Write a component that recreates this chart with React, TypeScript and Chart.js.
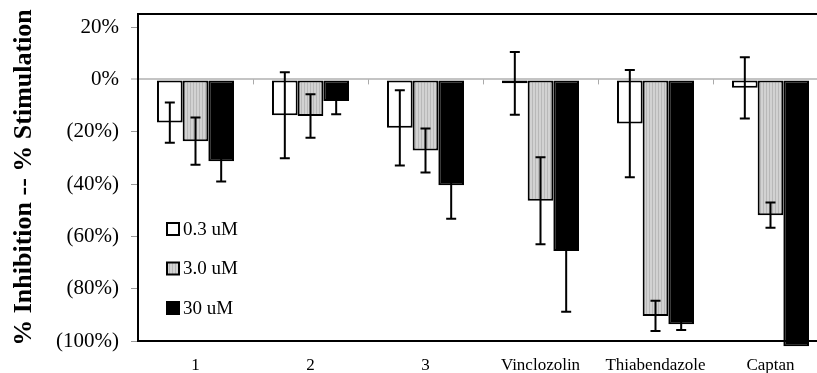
import React, { useEffect, useRef } from 'react';
import { Chart, registerables } from 'chart.js';

Chart.register(...registerables);

const categories = ['1', '2', '3', 'Vinclozolin', 'Thiabendazole', 'Captan'];
const seriesLabels = ['0.3 uM', '3.0 uM', '30 uM'];
const lowValues = [-16.5, -13.7, -18.5, -1.5, -16.9, -3.2];
const lowErrors = [7.7, 16.4, 14.4, 12, 20.5, 11.7];
const midValues = [-23.6, -14, -27.2, -46.4, -90.4, -51.9];
const midErrors = [9, 8.3, 8.4, 16.6, 5.8, 4.8];
const highValues = [-31.3, -8.3, -40.5, -65.6, -93.6, -102];
const highErrors = [7.7, 5, 12.8, 23.2, 2.2, 0];
const yTickValues = [-100, -80, -60, -40, -20, 0, 20];
const yMin = -100;
const yMax = 25;
const yTitle = '% Inhibition -- % Stimulation';

const SERIF = '"Liberation Serif", "Times New Roman", serif';

function makeStripePattern(): CanvasPattern | string {
  const c = document.createElement('canvas');
  c.width = 3;
  c.height = 4;
  const g = c.getContext('2d');
  if (!g) return '#c8c8c8';
  g.fillStyle = '#d2d2d2';
  g.fillRect(0, 0, 3, 4);
  g.fillStyle = '#b8b8b8';
  g.fillRect(2, 0, 1, 4);
  return g.createPattern(c, 'repeat') || '#c8c8c8';
}

const errorBarPlugin = {
  id: 'errorBars',
  afterDatasetsDraw(chart: any) {
    const ctx = chart.ctx;
    const y = chart.scales.y;
    chart.data.datasets.forEach((ds: any, di: number) => {
      const meta = chart.getDatasetMeta(di);
      meta.data.forEach((bar: any, i: number) => {
        const e = ds.errors[i];
        if (!e) return;
        const v = ds.data[i];
        const yTop = y.getPixelForValue(v + e);
        const yBot = y.getPixelForValue(v - e);
        ctx.save();
        ctx.strokeStyle = '#000';
        ctx.lineWidth = 2;
        ctx.beginPath();
        ctx.moveTo(bar.x, yTop);
        ctx.lineTo(bar.x, yBot);
        ctx.moveTo(bar.x - 5, yTop);
        ctx.lineTo(bar.x + 5, yTop);
        ctx.moveTo(bar.x - 5, yBot);
        ctx.lineTo(bar.x + 5, yBot);
        ctx.stroke();
        ctx.restore();
      });
    });
  },
};

const framePlugin = {
  id: 'frame',
  beforeDatasetsDraw(chart: any) {
    const { ctx, chartArea, scales } = chart;
    const x = scales.x;
    const y0 = scales.y.getPixelForValue(0);
    ctx.save();
    ctx.strokeStyle = '#aaaaaa';
    ctx.lineWidth = 1;
    ctx.beginPath();
    for (let i = 1; i < categories.length; i++) {
      const px = Math.round((x.getPixelForValue(i - 1) + x.getPixelForValue(i)) / 2) + 0.5;
      ctx.moveTo(px, y0);
      ctx.lineTo(px, y0 + 5);
    }
    ctx.stroke();
    ctx.strokeStyle = '#000';
    ctx.lineWidth = 2;
    ctx.beginPath();
    ctx.moveTo(chartArea.left, chartArea.top);
    ctx.lineTo(chartArea.right, chartArea.top);
    ctx.lineTo(chartArea.right, chartArea.bottom);
    ctx.stroke();
    ctx.restore();
  },
};

const legendPlugin = {
  id: 'insideLegend',
  afterDraw(chart: any) {
    const { ctx, chartArea } = chart;
    chart.data.datasets.forEach((ds: any, i: number) => {
      const bx = chartArea.left + 29;
      const cy = chartArea.top + 215 + i * 39.5;
      ctx.save();
      ctx.fillStyle = ds.backgroundColor;
      ctx.fillRect(bx, cy - 6, 12, 12);
      ctx.lineWidth = 2;
      ctx.strokeStyle = '#000';
      ctx.strokeRect(bx, cy - 6, 12, 12);
      ctx.font = `19px ${SERIF}`;
      ctx.textBaseline = 'middle';
      ctx.textAlign = 'left';
      ctx.fillStyle = '#000';
      ctx.fillText(ds.label, bx + 16, cy + 1);
      ctx.restore();
    });
  },
};

export default function App() {
  const canvasRef = useRef<HTMLCanvasElement | null>(null);

  useEffect(() => {
    const canvas = canvasRef.current;
    if (!canvas) return;
    const stripes = makeStripePattern();
    const chart = new Chart(canvas, {
      type: 'bar',
      data: {
        labels: categories,
        datasets: [
          { label: seriesLabels[0], data: lowValues, errors: lowErrors, backgroundColor: '#ffffff' } as any,
          { label: seriesLabels[1], data: midValues, errors: midErrors, backgroundColor: stripes } as any,
          { label: seriesLabels[2], data: highValues, errors: highErrors, backgroundColor: '#000000' } as any,
        ].map((d: any) => ({
          ...d,
          borderColor: '#000',
          borderWidth: 2,
          borderSkipped: false,
          categoryPercentage: 0.67,
          barPercentage: 1.0,
          clip: false,
        })),
      },
      options: {
        animation: false,
        responsive: false,
        maintainAspectRatio: false,
        devicePixelRatio: 1,
        layout: { padding: { top: 6, right: 10, bottom: 0, left: 0 } },
        plugins: {
          legend: { display: false },
          tooltip: { enabled: false },
        },
        scales: {
          x: {
            grid: { display: false },
            border: { display: true, color: '#000', width: 2 },
            ticks: {
              color: '#000',
              font: { family: SERIF, size: 17 },
              padding: 6,
              maxRotation: 0,
              autoSkip: false,
            },
            afterFit(scale: any) {
              scale.height = 40;
              scale.paddingLeft = 0;
              scale.paddingRight = 0;
            },
          },
          y: {
            min: yMin,
            max: yMax,
            afterBuildTicks(scale: any) {
              scale.ticks = yTickValues.map((v) => ({ value: v }));
            },
            afterFit(scale: any) {
              scale.width = 130;
              scale.paddingTop = 0;
              scale.paddingBottom = 0;
            },
            grid: {
              drawOnChartArea: true,
              color: (c: any) => (c.tick && c.tick.value === 0 ? '#c4c4c4' : 'rgba(0,0,0,0)'),
              lineWidth: (c: any) => (c.tick && c.tick.value === 0 ? 2 : 1),
              tickColor: '#999',
              tickWidth: 1,
              tickLength: 7,
            },
            border: { display: true, color: '#000', width: 2 },
            ticks: {
              color: '#000',
              font: { family: SERIF, size: 21 },
              padding: 12,
              callback: (v: any) => (Number(v) < 0 ? `(${-Number(v)}%)` : `${v}%`),
            },
            title: {
              display: true,
              text: yTitle,
              color: '#000',
              font: { family: SERIF, size: 26, weight: 'bold' },
              padding: { top: 1, bottom: 0 },
            },
          },
        },
      },
      plugins: [framePlugin, errorBarPlugin, legendPlugin],
    } as any);
    return () => chart.destroy();
  }, []);

  return (
    <div style={{ position: 'absolute', left: 8, top: 8, width: 809, height: 365, overflow: 'hidden', background: '#fff' }}>
      <canvas ref={canvasRef} width={830} height={373} style={{ display: 'block' }} />
    </div>
  );
}
